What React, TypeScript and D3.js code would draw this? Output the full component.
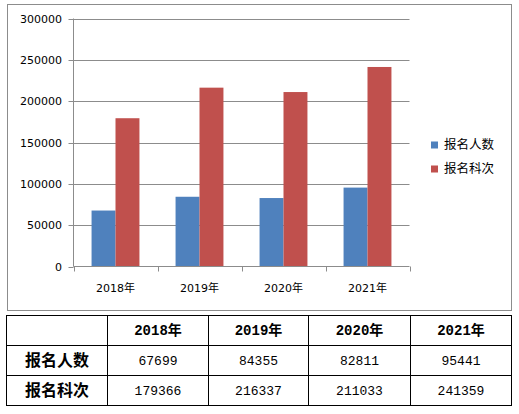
import React, { useEffect, useRef } from 'react';
import * as d3 from 'd3';

const years = ['2018年', '2019年', '2020年', '2021年'];
const seriesNames = ['报名人数', '报名科次'];
const applicants = [67699, 84355, 82811, 95441];
const subjectEntries = [179366, 216337, 211033, 241359];
const yTicks = [0, 50000, 100000, 150000, 200000, 250000, 300000];
const colors = ['#4F81BD', '#C0504D'];

export default function App() {
  const svgRef = useRef<SVGSVGElement>(null);

  useEffect(() => {
    if (!svgRef.current) return;
    const svg = d3.select(svgRef.current);
    const width = 519;
    const height = 414;
    svg.selectAll('*').remove();
    svg.attr('width', width).attr('height', height).attr('viewBox', [0, 0, width, height]);

    const series = [applicants, subjectEntries];
    const plot = { left: 73.5, right: 409.5, top: 18.5, bottom: 266.5 };

    // chart frame
    svg.append('rect')
      .attr('x', 7.5).attr('y', 4.5)
      .attr('width', 504).attr('height', 306)
      .attr('fill', '#fff').attr('stroke', '#8c8c8c');

    const x = d3.scaleBand<string>()
      .domain(years)
      .range([plot.left, plot.right])
      .paddingInner(0.43)
      .paddingOuter(0.215);
    const xInner = d3.scaleBand<number>()
      .domain([0, 1])
      .range([0, x.bandwidth()]);
    const y = d3.scaleLinear().domain([0, 300000]).range([plot.bottom, plot.top]);
    const step = (plot.right - plot.left) / years.length;

    // grid lines
    svg.append('g')
      .selectAll('line')
      .data(yTicks.filter(t => t > 0))
      .enter()
      .append('line')
      .attr('x1', plot.left).attr('x2', plot.right)
      .attr('y1', d => Math.round(y(d)) + 0.5).attr('y2', d => Math.round(y(d)) + 0.5)
      .attr('stroke', '#8c8c8c');

    // bars
    series.forEach((vals, si) => {
      svg.append('g')
        .selectAll('rect')
        .data(vals)
        .enter()
        .append('rect')
        .attr('x', (_, i) => (x(years[i]) as number) + (xInner(si) as number))
        .attr('y', d => y(d))
        .attr('width', xInner.bandwidth())
        .attr('height', d => plot.bottom - y(d))
        .attr('fill', colors[si]);
    });

    // axes
    svg.append('line')
      .attr('x1', plot.left).attr('x2', plot.left)
      .attr('y1', plot.top).attr('y2', plot.bottom)
      .attr('stroke', '#8c8c8c');
    svg.append('line')
      .attr('x1', plot.left).attr('x2', plot.right)
      .attr('y1', plot.bottom).attr('y2', plot.bottom)
      .attr('stroke', '#8c8c8c');

    const yAxis = svg.append('g');
    yTicks.forEach(t => {
      const yy = Math.round(y(t)) + 0.5;
      yAxis.append('line')
        .attr('x1', plot.left - 5).attr('x2', plot.left)
        .attr('y1', yy).attr('y2', yy)
        .attr('stroke', '#8c8c8c');
      yAxis.append('text')
        .attr('x', 62).attr('y', yy)
        .attr('dy', '0.35em')
        .attr('text-anchor', 'end')
        .attr('font-family', 'DejaVu Sans, sans-serif')
        .attr('font-size', 11)
        .attr('fill', '#000')
        .text(t);
    });

    const xAxis = svg.append('g');
    d3.range(years.length + 1).forEach(i => {
      const xx = Math.round(plot.left + i * step) + 0.5;
      xAxis.append('line')
        .attr('x1', xx).attr('x2', xx)
        .attr('y1', plot.bottom).attr('y2', plot.bottom + 5)
        .attr('stroke', '#8c8c8c');
    });
    years.forEach(yr => {
      xAxis.append('text')
        .attr('x', (x(yr) as number) + x.bandwidth() / 2)
        .attr('y', 288)
        .attr('dy', '0.35em')
        .attr('text-anchor', 'middle')
        .attr('font-family', 'DejaVu Sans, Noto Sans CJK SC, sans-serif')
        .attr('font-size', 11)
        .attr('fill', '#000')
        .text(yr);
    });

    // legend
    const legend = svg.append('g');
    seriesNames.forEach((name, i) => {
      const cy = 145 + i * 24;
      legend.append('rect')
        .attr('x', 431).attr('y', cy - 3.5)
        .attr('width', 7).attr('height', 7)
        .attr('fill', colors[i]);
      legend.append('text')
        .attr('x', 444).attr('y', cy)
        .attr('dy', '0.35em')
        .attr('font-family', 'Noto Sans CJK SC, sans-serif')
        .attr('font-size', 12.5)
        .attr('fill', '#000')
        .text(name);
    });

    // data table
    const colEdges = [6.5, 107.5, 208.5, 308.5, 410.5, 511.5];
    const rowEdges = [315.5, 345.5, 375.5, 405.5];
    const table = svg.append('g');
    table.append('rect')
      .attr('x', colEdges[0]).attr('y', rowEdges[0])
      .attr('width', colEdges[5] - colEdges[0])
      .attr('height', rowEdges[3] - rowEdges[0])
      .attr('fill', '#fff').attr('stroke', '#000');
    colEdges.slice(1, -1).forEach(cx => {
      table.append('line')
        .attr('x1', cx).attr('x2', cx)
        .attr('y1', rowEdges[0]).attr('y2', rowEdges[3])
        .attr('stroke', '#000');
    });
    rowEdges.slice(1, -1).forEach(ry => {
      table.append('line')
        .attr('x1', colEdges[0]).attr('x2', colEdges[5])
        .attr('y1', ry).attr('y2', ry)
        .attr('stroke', '#000');
    });
    const cellX = (c: number) => (colEdges[c] + colEdges[c + 1]) / 2;
    const cellY = (r: number) => (rowEdges[r] + rowEdges[r + 1]) / 2;

    years.forEach((yr, i) => {
      table.append('text')
        .attr('x', cellX(i + 1)).attr('y', cellY(0))
        .attr('dy', '0.35em')
        .attr('text-anchor', 'middle')
        .attr('font-family', 'Liberation Mono, Noto Sans CJK SC, monospace')
        .attr('font-weight', 'bold')
        .attr('font-size', 14)
        .text(yr);
    });
    seriesNames.forEach((name, r) => {
      table.append('text')
        .attr('x', cellX(0)).attr('y', cellY(r + 1))
        .attr('dy', '0.35em')
        .attr('text-anchor', 'middle')
        .attr('font-family', 'Noto Sans CJK SC, sans-serif')
        .attr('font-weight', 'bold')
        .attr('font-size', 16)
        .text(name);
      series[r].forEach((v, i) => {
        table.append('text')
          .attr('x', cellX(i + 1)).attr('y', cellY(r + 1))
          .attr('dy', '0.35em')
          .attr('text-anchor', 'middle')
          .attr('font-family', 'Liberation Mono, monospace')
          .attr('font-size', 13)
          .text(v);
      });
    });
  }, []);

  return (
    <div style={{ position: 'absolute', left: 0, top: 0, background: '#fff' }}>
      <svg ref={svgRef} style={{ display: 'block' }} />
    </div>
  );
}
